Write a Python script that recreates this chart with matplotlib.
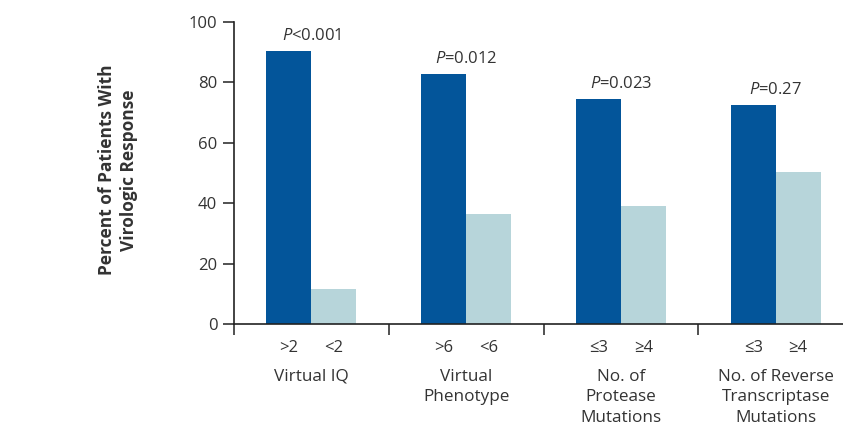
import matplotlib
matplotlib.use('Agg')
import numpy as np
import matplotlib.pyplot as plt

# Data
groups = ['Virtual IQ', 'Virtual\nPhenotype', 'No. of\nProtease\nMutations',
          'No. of Reverse\nTranscriptase\nMutations']
sub_labels_hi = ['>2', '>6', '\u22643', '\u22643']
sub_labels_lo = ['<2', '<6', '\u22654', '\u22654']
response_hi = [90.5, 82.8, 74.6, 72.6]
response_lo = [11.6, 36.5, 39.2, 50.4]
p_values = ['<0.001', '=0.012', '=0.023', '=0.27']

dark_blue = '#03559a'
light_blue = '#b7d5da'
text_col = '#333333'

plt.rcParams['font.family'] = ['Open Sans', 'DejaVu Sans']
plt.rcParams['mathtext.fontset'] = 'custom'
plt.rcParams['mathtext.it'] = 'Open Sans:italic'
plt.rcParams['mathtext.rm'] = 'Open Sans'

fig = plt.figure(figsize=(8.43, 4.26), dpi=100)
# axes runs past the right edge like in the original
ax = fig.add_axes([234 / 843, 102 / 426, 619 / 843, 302 / 426])

x = np.arange(len(groups)) + 0.5
w = 0.29
ax.bar(x - w / 2, response_hi, width=w, color=dark_blue, zorder=2)
ax.bar(x + w / 2, response_lo, width=w, color=light_blue, zorder=2)

ax.set_xlim(0, 4)
ax.set_ylim(0, 100)
ax.set_yticks([0, 20, 40, 60, 80, 100])
ax.set_xticks([0, 1, 2, 3, 4])
ax.set_xticklabels([])
ax.tick_params(axis='both', direction='out', length=8, width=1.1, color='#222222',
               labelsize=12, labelcolor=text_col)
ax.tick_params(axis='y', pad=4)

for s in ['top', 'right']:
    ax.spines[s].set_visible(False)
for s in ['left', 'bottom']:
    ax.spines[s].set_linewidth(1.2)
    ax.spines[s].set_color('#222222')
ax.spines['bottom'].set_zorder(3)

trans = ax.get_xaxis_transform()
for i in range(len(groups)):
    ax.text(x[i] - w / 2, -0.08, sub_labels_hi[i], transform=trans, ha='center', va='center',
            fontsize=12, color=text_col)
    ax.text(x[i] + w / 2, -0.08, sub_labels_lo[i], transform=trans, ha='center', va='center',
            fontsize=12, color=text_col)
    ax.text(x[i], -0.148, groups[i], transform=trans, ha='center', va='top',
            fontsize=12.3, color=text_col, linespacing=1.4)
    ax.annotate(r'$\mathit{P}$' + p_values[i], xy=(x[i], response_hi[i]),
                xytext=(0, 5), textcoords='offset points', ha='center', va='bottom',
                fontsize=12, color=text_col)

fig.text(118 / 843, 1 - 170 / 426, 'Percent of Patients With\nVirologic Response',
         rotation=90, ha='center', va='center', fontsize=12.5, fontweight='bold',
         color=text_col, linespacing=1.25)

fig.savefig('out.png', dpi=100)
